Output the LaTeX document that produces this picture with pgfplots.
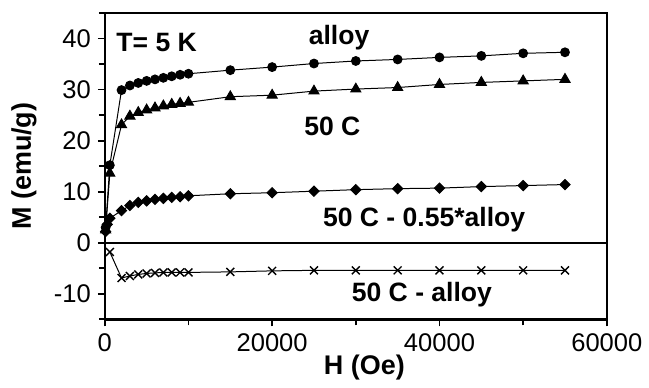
\documentclass[border=0pt]{standalone}
\usepackage{fontspec}
\setmainfont{Liberation Sans}
\usepackage{pgfplots}
\pgfplotsset{compat=1.18}
\begin{document}
\begin{tikzpicture}
\path (-52.5pt,-31.5pt) rectangle (272pt,160pt);
\begin{axis}[
  scale only axis, width=251.5pt, height=153.5pt,
  xmin=0, xmax=60000, ymin=-15, ymax=45,
  xtick={0,20000,40000,60000}, minor xtick={10000,30000,50000},
  ytick={-10,0,10,20,30,40}, minor ytick={-15,-5,5,15,25,35,45},
  tick align=outside, xtick pos=bottom, ytick pos=left,
  major tick length=3.5pt, minor tick length=3pt,
  every tick/.style={black, line width=0.9pt},
  axis line style={line width=1.3pt},
  scaled x ticks=false,
  xticklabel style={/pgf/number format/1000 sep={}},
  /pgf/number format/assume math mode=true,
  tick label style={font=\fontsize{12.8}{14}\selectfont},
  xlabel={H (Oe)}, ylabel={M (emu/g)},
  label style={font=\fontsize{13.5}{16}\selectfont\bfseries},
  xlabel style={at={(axis description cs:0.517,-0.158)}, anchor=center},
  ylabel style={at={(axis description cs:-0.161,0.5)}, anchor=center},
]
\addplot[black, line width=1.2pt, forget plot] coordinates {(0,0) (60000,0)};
\addplot[black, line width=0.5pt, mark=*, mark size=2.2pt] coordinates {
(100,3.0) (600,15.2) (2000,29.9) (3000,30.8) (4000,31.3) (5000,31.7) (6000,32.0) (7000,32.3) (8000,32.6) (9000,32.9) (10000,33.1) (15000,33.8) (20000,34.4) (25000,35.1) (30000,35.6) (35000,35.9) (40000,36.3) (45000,36.6) (50000,37.1) (55000,37.3)};
\addplot[black, line width=0.5pt, mark=triangle*, mark size=2.9pt] coordinates {
(100,2.5) (600,13.6) (2000,23.1) (3000,24.8) (4000,25.5) (5000,26.0) (6000,26.4) (7000,26.8) (8000,27.1) (9000,27.3) (10000,27.5) (15000,28.6) (20000,28.9) (25000,29.7) (30000,30.1) (35000,30.4) (40000,31.0) (45000,31.4) (50000,31.7) (55000,32.0)};
\addplot[black, line width=0.5pt, mark=square*, mark size=1.8pt, mark options={rotate=45}] coordinates {
(100,2.2) (300,3.6) (600,4.8) (2000,6.3) (3000,7.3) (4000,7.9) (5000,8.2) (6000,8.5) (7000,8.7) (8000,8.9) (9000,9.0) (10000,9.2) (15000,9.6) (20000,9.8) (25000,10.1) (30000,10.4) (35000,10.6) (40000,10.7) (45000,11.0) (50000,11.2) (55000,11.4)};
\addplot[black, line width=0.5pt, mark=x, mark size=2.8pt, mark options={line width=0.7pt}] coordinates {
(600,-1.8) (2000,-6.9) (3000,-6.5) (4000,-6.2) (5000,-6.0) (6000,-5.9) (7000,-5.8) (8000,-5.8) (9000,-5.8) (10000,-5.8) (15000,-5.7) (20000,-5.5) (25000,-5.4) (30000,-5.4) (35000,-5.4) (40000,-5.4) (45000,-5.4) (50000,-5.4) (55000,-5.4)};
\node[font=\fontsize{13.3}{16}\selectfont\bfseries] at (axis cs:6200,39.3) {T= 5 K};
\node[font=\fontsize{13.3}{16}\selectfont\bfseries] at (axis cs:28000,40.2) {alloy};
\node[font=\fontsize{13.3}{16}\selectfont\bfseries] at (axis cs:27200,22.7) {50 C};
\node[font=\fontsize{13.3}{16}\selectfont\bfseries] at (axis cs:38160,4.5) {50 C - 0.55*alloy};
\node[font=\fontsize{13.3}{16}\selectfont\bfseries] at (axis cs:37900,-10.2) {50 C - alloy};
\end{axis}
\end{tikzpicture}
\end{document}
